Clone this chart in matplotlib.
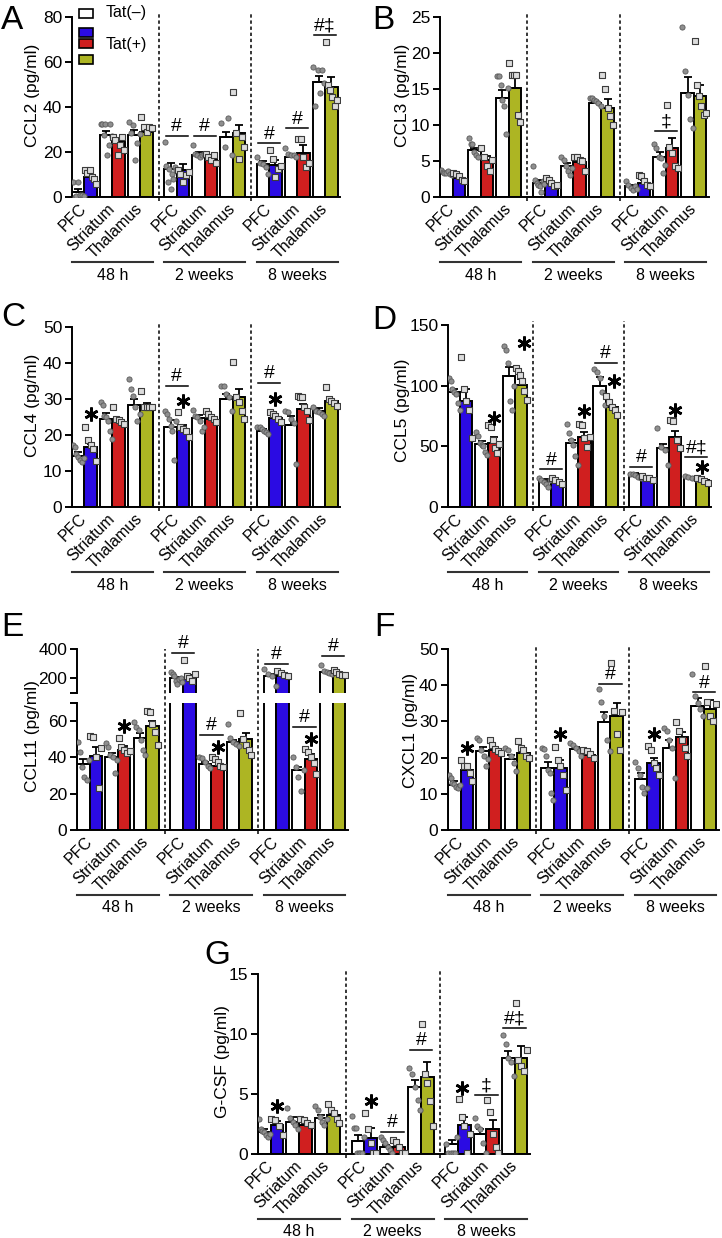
import numpy as np
import matplotlib
matplotlib.use('Agg')
import matplotlib.pyplot as plt
import matplotlib.transforms as mtransforms
from matplotlib.patches import Rectangle

plt.rcParams['font.family'] = ['Liberation Sans', 'DejaVu Sans']

regions = ['PFC', 'Striatum', 'Thalamus']
timepoints = ['48 h', '2 weeks', '8 weeks']
tat_colors = ['#2B0BE3', '#D01F1F', '#ADB523']   # PFC, Striatum, Thalamus (Tat+)

# order of groups: 48h PFC/Str/Thal, 2wk PFC/Str/Thal, 8wk PFC/Str/Thal
# ---- A: CCL2
ccl2_neg = [2.3, 27.5, 27.5, 12.6, 18.6, 26.5, 14.6, 17.8, 51.0]
ccl2_neg_sem = [1.2, 2.0, 2.2, 2.3, 1.2, 2.5, 1.6, 1.4, 2.8]
ccl2_pos = [8.9, 24.5, 29.0, 12.2, 17.1, 28.3, 14.1, 19.6, 48.8]
ccl2_pos_sem = [1.1, 1.5, 1.4, 2.4, 1.0, 3.7, 2.2, 3.4, 4.4]
ccl2_neg_pts = [[6.5, 0.2, 0.5, 6.5, 0.8, 1.0, 0.3], [32.4, 32.4, 27.5, 32.4, 18.6, 23.0, 32.4, 27.0],
                [33.5, 28.3, 32.0, 16.4, 23.8, 28.0], [24.5, 14.0, 6.7, 12.6, 3.7, 10.4, 8.2, 13.4, 11.9],
                [23.0, 19.3, 18.6, 17.8, 18.6, 19.3], [32.7, 22.3, 34.9, 18.6],
                [17.8, 14.9, 14.5, 13.4, 10.4], [21.6, 19.0, 18.6, 18.6, 17.8],
                [58.0, 40.4, 56.5, 46.1, 56.5, 50.6]]
ccl2_pos_pts = [[12.0, 10.5, 12.0, 9.0, 8.0, 6.0], [26.8, 25.3, 18.6, 23.0, 26.8, 20.8],
                [35.7, 31.2, 29.0, 31.2, 30.5], [11.9, 10.4, 6.7, 9.7, 11.2],
                [19.3, 17.8, 16.4, 18.6, 14.9], [46.8, 28.3, 16.7, 26.8, 22.3],
                [20.8, 16.7, 8.9, 12.6, 14.0], [26.0, 26.0, 17.8, 13.4, 14.9],
                [68.7, 49.8, 47.6, 44.6, 40.4, 43.0]]
ccl2_sig = [(3, '#', 27.2), (4, '#', 27.2), (6, '#', 23.8), (7, '#', 30.5), (8, '#‡', 72.0)]
ccl2_star = []

# ---- B: CCL3
ccl3_neg = [3.3, 6.5, 13.7, 2.0, 4.3, 13.1, 1.5, 5.6, 14.4]
ccl3_neg_sem = [0.15, 0.3, 1.1, 0.3, 0.4, 0.3, 0.15, 0.6, 2.3]
ccl3_pos = [2.6, 5.1, 15.1, 1.8, 4.8, 12.4, 2.0, 6.8, 14.0]
ccl3_pos_sem = [0.25, 0.6, 1.4, 0.25, 0.4, 1.2, 0.35, 1.4, 1.5]
ccl3_neg_pts = [[3.8, 3.5, 3.4, 3.3, 3.6, 3.2, 3.0], [8.2, 7.3, 7.3, 6.3, 5.9, 5.6, 6.8],
                [16.8, 16.8, 15.6, 13.5, 12.6, 8.7, 15.1], [4.3, 2.4, 2.0, 1.7, 1.5, 0.65, 2.2, 1.8],
                [5.6, 5.2, 4.3, 3.6, 3.1, 4.0], [13.8, 13.7, 13.5, 13.3, 13.1, 12.7],
                [2.2, 1.7, 1.25, 1.0, 1.5, 1.1], [7.3, 6.8, 5.6, 5.4, 3.3, 4.5],
                [23.6, 17.5, 14.2, 10.8, 9.6]]
ccl3_pos_pts = [[3.3, 3.2, 2.9, 2.4, 2.2], [6.8, 5.6, 4.3, 3.6, 5.2],
                [18.6, 17.0, 17.0, 17.0, 11.4, 10.4], [2.6, 2.4, 2.0, 1.5, 1.7],
                [5.6, 5.5, 5.2, 5.0, 3.6], [17.0, 15.0, 12.4, 11.2, 10.0],
                [3.1, 2.9, 2.2, 1.7, 1.5], [12.8, 7.0, 6.1, 4.3, 4.0],
                [21.6, 15.5, 14.0, 12.7, 11.4, 11.6]]
ccl3_sig = [(7, '‡', 9.1)]
ccl3_star = []

# ---- C: CCL4
ccl4_neg = [14.3, 24.5, 28.2, 22.2, 24.6, 30.0, 21.2, 22.9, 26.8]
ccl4_neg_sem = [0.9, 1.5, 1.8, 2.0, 0.9, 1.4, 0.4, 2.5, 0.7]
ccl4_pos = [16.8, 23.5, 27.7, 21.7, 24.5, 30.5, 24.7, 27.1, 29.4]
ccl4_pos_sem = [0.8, 0.7, 1.1, 1.2, 0.7, 2.3, 1.0, 1.6, 0.4]
ccl4_neg_pts = [[17.1, 16.6, 14.8, 13.9, 13.1, 12.5, 13.5], [29.1, 28.2, 25.4, 24.9, 24.0, 21.2, 18.9],
                [35.5, 32.8, 30.9, 27.7, 24.0, 25.9], [26.8, 25.9, 24.5, 22.6, 21.2, 13.1, 23.8],
                [27.0, 25.4, 25.0, 24.0, 21.2, 22.2], [33.7, 33.5, 31.4, 30.5, 26.8],
                [22.3, 22.1, 21.7, 21.2, 20.8, 20.3], [26.8, 26.3, 24.5, 23.2, 12.0],
                [27.7, 26.8, 26.3, 25.9, 25.4]]
ccl4_pos_pts = [[22.2, 18.5, 17.1, 16.2, 12.9], [27.9, 24.5, 24.2, 23.5, 23.1],
                [32.1, 27.7, 27.7, 27.7, 27.9], [26.3, 22.2, 21.7, 21.2, 19.4],
                [26.8, 25.9, 25.0, 24.5, 23.5], [40.4, 30.5, 29.1, 26.8, 24.5],
                [26.3, 25.9, 25.4, 24.5, 23.5], [30.9, 30.5, 30.5, 27.7, 26.8, 24.2],
                [33.2, 29.9, 29.4, 29.0, 28.0]]
ccl4_sig = [(3, '#', 33.7), (6, '#', 34.4)]
ccl4_star = [(0, 0.5, 25.8), (3, 0.5, 29.5), (6, 0.5, 30.0)]

# ---- D: CCL5
ccl5_neg = [94.5, 51.7, 107.7, 21.5, 52.5, 100.0, 27.0, 48.3, 24.3]
ccl5_neg_sem = [2.8, 2.7, 8.0, 1.2, 2.8, 7.0, 1.2, 4.0, 0.8]
ccl5_pos = [87.0, 53.0, 100.8, 20.2, 58.0, 82.3, 23.5, 58.0, 22.0]
ccl5_pos_sem = [10.0, 5.0, 4.7, 1.4, 4.0, 1.5, 1.0, 5.0, 1.2]
ccl5_neg_pts = [[106, 104, 97, 95, 93, 86, 80], [62, 58.6, 52.5, 51, 50, 45.6, 42.8],
                [132.6, 129.8, 118.8, 87, 80, 100], [23.5, 22.0, 21.0, 19.3, 16.6, 22.5],
                [68.2, 60.8, 55.2, 51.0, 42.0, 34.5], [113.8, 111.0, 106.0, 94.5, 84.3],
                [27.6, 27.0, 26.0, 24.9, 24.0], [65.0, 49.7, 47.0, 34.5],
                [25.7, 24.9, 24.0, 23.0]]
ccl5_pos_pts = [[124, 97, 87, 80, 56.6], [67.7, 66.3, 55.2, 48.3, 44.2, 52],
                [114.6, 111.9, 109.0, 103.6, 95.3, 88.4], [24.3, 22.0, 20.5, 18.8],
                [68.2, 67.7, 56.6, 49.7, 58.0], [91.7, 86.2, 82.3, 80.0, 76.0],
                [25.7, 24.3, 23.5, 22.0], [71.3, 70.5, 55.2, 48.3],
                [24.0, 23.0, 21.5, 19.5]]
ccl5_sig = [(3, '#', 31.0), (5, '#', 119.0), (6, '#', 33.0), (8, '#‡', 41.4)]
ccl5_star = [(1, 0.5, 73.0), (2, 0.7, 135.0), (4, 0.5, 79.0), (5, 0.7, 103.6), (7, 0.5, 80.0), (8, 0.5, 33.0)]

# ---- E: CCL11 (broken axis)
ccl11_neg = [36.3, 40.0, 50.5, 200, 36.3, 48.6, 213, 33.0, 240]
ccl11_neg_sem = [2.6, 2.2, 3.1, 10, 1.3, 1.0, 15, 1.9, 8]
ccl11_pos = [41.0, 44.0, 57.4, 200, 35.2, 50.1, 213, 38.9, 228]
ccl11_pos_sem = [4.5, 2.2, 2.8, 20, 3.3, 3.5, 10, 2.9, 6]
ccl11_neg_pts = [[48.6, 43.0, 34.9, 29.4, 27.5, 38.5], [48.0, 46.0, 41.3, 40.0, 31.2, 38.5],
                 [59.6, 56.9, 55.0, 49.5, 44.0, 41.3], [244, 229, 213, 184, 162, 195, 205, 175],
                 [40.4, 39.5, 37.6, 35.2, 34.0], [58.7, 50.5, 48.6, 47.5, 46.5],
                 [262, 229, 213, 147], [40.4, 34.9, 29.4, 21.7, 33.0],
                 [289, 250, 240, 235, 230]]
ccl11_pos_pts = [[51.7, 51.0, 40.4, 22.9, 45.0], [50.5, 45.5, 44.0, 42.2, 43.5],
                 [65.7, 65.1, 58.7, 54.1, 46.8], [324, 213, 200, 184, 229],
                 [40.4, 38.9, 37.6, 35.2, 34.9], [64.6, 50.1, 46.8, 44.0, 41.3],
                 [251, 236, 222, 215], [44.4, 43.0, 40.4, 36.7, 30.8],
                 [255, 240, 230, 225, 220]]
ccl11_sig = [(4, '#', 52.3), (7, '#', 56.9)]
ccl11_sig_top = [(3, '#', 373), (6, '#', 298), (8, '#', 352)]
ccl11_star = [(1, 0.5, 57.4), (4, 0.5, 45.5), (7, 0.5, 49.9)]

# ---- F: CXCL1
cxcl1_neg = [12.5, 21.8, 19.6, 17.1, 22.4, 29.8, 14.1, 22.7, 34.3]
cxcl1_neg_sem = [0.9, 1.2, 1.2, 1.6, 0.6, 2.9, 1.6, 2.1, 2.3]
cxcl1_pos = [16.7, 22.0, 21.3, 17.1, 20.6, 31.5, 18.5, 25.6, 33.3]
cxcl1_pos_sem = [0.9, 0.7, 0.9, 2.3, 0.6, 3.5, 1.4, 1.4, 2.6]
cxcl1_neg_pts = [[15.3, 14.4, 13.1, 12.8, 12.0, 11.6, 12.3], [25.5, 25.0, 22.2, 20.4, 17.6, 19.5],
                 [22.7, 22.2, 20.4, 18.5, 16.2], [22.7, 22.4, 20.4, 16.7, 15.7, 10.2, 8.3],
                 [24.1, 23.6, 22.7, 21.8, 20.4], [38.9, 35.4, 31.5, 25.0, 21.8],
                 [18.7, 17.1, 15.3, 12.0, 10.2, 11.5], [28.2, 27.3, 25.0, 22.7, 14.4],
                 [43.0, 37.0, 35.2, 33.3, 31.5]]
cxcl1_pos_pts = [[19.4, 17.8, 17.6, 15.7, 13.4], [24.8, 23.6, 22.4, 21.8, 21.3],
                 [24.5, 22.7, 22.2, 20.4, 19.9], [23.0, 19.4, 17.6, 15.3, 11.1],
                 [22.2, 21.8, 20.9, 19.9], [46.1, 32.9, 26.4, 22.2, 32.5],
                 [23.3, 22.2, 18.5, 17.1, 15.3], [29.8, 27.3, 25.0, 22.7, 20.4],
                 [45.2, 35.4, 31.5, 30.1, 34.8]]
cxcl1_sig = [(5, '#', 40.3), (8, '#', 38.0)]
cxcl1_star = [(0, 0.5, 22.7), (3, 0.5, 26.4), (6, 0.5, 26.4)]

# ---- G: G-CSF
gcsf_neg = [1.8, 2.65, 3.0, 1.1, 0.6, 5.6, 0.8, 1.67, 8.0]
gcsf_neg_sem = [0.25, 0.4, 0.26, 0.5, 0.15, 0.6, 0.4, 0.45, 0.55]
gcsf_pos = [2.4, 2.4, 3.26, 1.35, 0.6, 6.4, 2.4, 2.06, 8.0]
gcsf_pos_sem = [0.33, 0.2, 0.25, 0.8, 0.15, 1.3, 0.66, 0.74, 1.0]
gcsf_neg_pts = [[2.9, 2.1, 1.9, 1.8, 1.6, 1.45, 1.7], [3.8, 3.0, 2.7, 2.4, 2.1],
                [4.0, 3.7, 3.1, 2.7, 2.4, 2.9], [3.2, 2.2, 2.15, 0.05, 0.05, 0.05, 0.05, 1.45],
                [1.45, 1.2, 0.9, 0.6, 0.33, 0.05], [7.2, 6.7, 5.6, 4.5, 3.7],
                [0.8, 0.05, 0.05, 0.05, 0.05, 1.45], [3.0, 2.3, 2.1, 0.9, 0.05],
                [9.9, 9.2, 8.0, 7.7, 6.5]]
gcsf_pos_pts = [[2.9, 2.85, 2.3, 1.6], [2.9, 2.85, 2.6, 2.4],
                [4.2, 3.7, 3.4, 2.9, 2.6], [3.4, 2.1, 0.9, 0.05, 0.05],
                [1.2, 1.0, 0.6, 0.05, 0.05], [10.8, 6.7, 5.9, 4.4, 2.3],
                [4.6, 3.1, 2.3, 0.05, 1.7], [4.5, 3.5, 1.7, 0.6, 0.05],
                [12.6, 7.85, 7.3, 6.9, 8.7]]
gcsf_sig = [(4, '#', 1.87), (5, '#', 8.7), (7, '‡', 4.9), (8, '#‡', 10.5)]
gcsf_star = [(0, 0.5, 4.0), (3, 0.5, 4.4), (6, 0.3, 5.5)]

# ------------------------------------------------------------------ layout
W, H = 722, 1238
fig = plt.figure(figsize=(W / 100, H / 100), dpi=100)
px = mtransforms.Affine2D().scale(1 / W, -1 / H).translate(0, 1) + fig.transFigure

centers = [t * 7.4 + r * 2.24 for t in range(3) for r in range(3)]
XLIM = (-1.0, centers[-1] + 1.2)


def add_ax(l, t, r, b):
    return fig.add_axes([l / W, 1 - b / H, (r - l) / W, (b - t) / H])


def style(ax, ylim, yticks, ylabels=None, bottom=True):
    ax.set_xlim(*XLIM)
    ax.set_ylim(*ylim)
    for s in ['top', 'right']:
        ax.spines[s].set_visible(False)
    ax.spines['left'].set_linewidth(1.4)
    ax.spines['bottom'].set_linewidth(1.4)
    ax.set_yticks(yticks)
    if ylabels is not None:
        ax.set_yticklabels(ylabels)
    ax.tick_params(axis='y', length=5, width=1.4, labelsize=12.5, pad=2)
    if bottom:
        ax.set_xticks(centers)
        ax.set_xticklabels(regions * 3, rotation=45, ha='right', va='center',
                           rotation_mode='anchor', fontsize=11.5)
        ax.tick_params(axis='x', length=0, pad=7)
    else:
        ax.spines['bottom'].set_visible(False)
        ax.set_xticks([])


def draw_bars(ax, neg, neg_sem, pos, pos_sem, neg_pts, pos_pts):
    for i, c in enumerate(centers):
        for dx, m, e, pts, fc, mk in [(-0.5, neg[i], neg_sem[i], neg_pts[i], 'white', 'o'),
                                      (0.5, pos[i], pos_sem[i], pos_pts[i], tat_colors[i % 3], 's')]:
            ax.bar(c + dx, m, width=1.0, color=fc, edgecolor='k', linewidth=1.4, zorder=2)
            ax.errorbar([c + dx], [m], yerr=[[0], [e]], fmt='none', ecolor='k',
                        elinewidth=1.3, capsize=2.6, capthick=1.3, zorder=3)
            n = len(pts)
            xs = c + dx + (np.linspace(-0.44, 0.44, n) if n > 1 else np.zeros(1))
            if mk == 'o':
                ax.scatter(xs, pts, s=14, marker='o', facecolor='#8f8f8f', edgecolor='#5a5a5a',
                           linewidth=0.6, zorder=4)
            else:
                ax.scatter(xs, pts, s=14, marker='s', facecolor='#dcdcdc', edgecolor='#3c3c3c',
                           linewidth=0.8, zorder=4)


def annotate(ax, sig, star):
    for g, txt, y in sig:
        c = centers[g]
        ax.plot([c - 0.9, c + 0.9], [y, y], color='k', lw=1.1, clip_on=False, zorder=5)
        ax.annotate(txt, (c, y), xytext=(0, 0.5), textcoords='offset points',
                    ha='center', va='bottom', fontsize=14, annotation_clip=False)
    for g, dx, y in star:
        ax.plot([centers[g] + dx], [y], marker=(6, 2, 0), ms=10, mew=1.9, color='k',
                clip_on=False, zorder=5)


def decorate(ax, h_px, top_frac=1.02):
    tr = mtransforms.blended_transform_factory(ax.transData, ax.transAxes)
    for k in (2, 5):
        xd = (centers[k] + centers[k + 1]) / 2
        ax.plot([xd, xd], [-4 / h_px, top_frac], transform=tr, color='k', lw=1.1,
                ls=(0, (2.2, 1.8)), clip_on=False, zorder=1)
    for t in range(3):
        x0, x1 = centers[3 * t] - 1.0, centers[3 * t + 2] + 1.0
        ax.plot([x0, x1], [-65 / h_px] * 2, transform=tr, color='#333333', lw=1.5,
                clip_on=False)
        ax.text((x0 + x1) / 2, -78 / h_px, timepoints[t], transform=tr, ha='center',
                va='center', fontsize=11.5)


def panel(box, data, ylim, yticks, sig, star, ylab, ylab_pos, letter, letter_pos):
    l, t, r, b = box
    ax = add_ax(l, t, r, b)
    style(ax, ylim, yticks)
    draw_bars(ax, *data)
    annotate(ax, sig, star)
    decorate(ax, b - t)
    fig.text(ylab_pos[0], ylab_pos[1], ylab, transform=px, rotation=90,
             ha='center', va='center', fontsize=12.5)
    fig.text(letter_pos[0], letter_pos[1], letter, transform=px, ha='left', va='top', fontsize=24)
    return ax


axA = panel((72, 17, 340, 197),
            (ccl2_neg, ccl2_neg_sem, ccl2_pos, ccl2_pos_sem, ccl2_neg_pts, ccl2_pos_pts),
            (0, 80), [0, 20, 40, 60, 80], ccl2_sig, ccl2_star, 'CCL2 (pg/ml)', (32, 95), 'A', (1, 5))
panel((440, 17, 709, 197),
      (ccl3_neg, ccl3_neg_sem, ccl3_pos, ccl3_pos_sem, ccl3_neg_pts, ccl3_pos_pts),
      (0, 25), [0, 5, 10, 15, 20, 25], ccl3_sig, ccl3_star, 'CCL3 (pg/ml)', (403, 95), 'B', (372, 5))
panel((72, 327, 340, 507),
      (ccl4_neg, ccl4_neg_sem, ccl4_pos, ccl4_pos_sem, ccl4_neg_pts, ccl4_pos_pts),
      (0, 50), [0, 10, 20, 30, 40, 50], ccl4_sig, ccl4_star, 'CCL4 (pg/ml)', (32, 405), 'C', (1, 302))
panel((448, 325, 711, 507),
      (ccl5_neg, ccl5_neg_sem, ccl5_pos, ccl5_pos_sem, ccl5_neg_pts, ccl5_pos_pts),
      (0, 150), [0, 50, 100, 150], ccl5_sig, ccl5_star, 'CCL5 (pg/ml)', (403, 410), 'D', (372, 305))
panel((448, 649, 719, 830),
      (cxcl1_neg, cxcl1_neg_sem, cxcl1_pos, cxcl1_pos_sem, cxcl1_neg_pts, cxcl1_pos_pts),
      (0, 50), [0, 10, 20, 30, 40, 50], cxcl1_sig, cxcl1_star, 'CXCL1 (pg/ml)', (411, 731), 'F', (374, 612))
panel((258, 974, 530, 1154),
      (gcsf_neg, gcsf_neg_sem, gcsf_pos, gcsf_pos_sem, gcsf_neg_pts, gcsf_pos_pts),
      (0, 15), [0, 5, 10, 15], gcsf_sig, gcsf_star, 'G-CSF (pg/ml)', (222, 1062), 'G', (204, 940))

# ---- E: broken y axis
e_data = (ccl11_neg, ccl11_neg_sem, ccl11_pos, ccl11_pos_sem, ccl11_neg_pts, ccl11_pos_pts)
axEt = add_ax(77, 649, 348, 693)
style(axEt, (100, 400), [100, 200, 400], ['', '200', '400'], bottom=False)
draw_bars(axEt, *e_data)
annotate(axEt, ccl11_sig_top, [])
axEb = add_ax(77, 703, 348, 830)
style(axEb, (0, 70), [0, 20, 40, 60, 70], ['0', '20', '40', '60', ''])
draw_bars(axEb, *e_data)
annotate(axEb, ccl11_sig, ccl11_star)
decorate(axEb, 127, top_frac=(830 - 649) / 127)
fig.text(32, 736, 'CCL11 (pg/ml)', transform=px, rotation=90, ha='center', va='center', fontsize=12.5)
fig.text(1, 612, 'E', transform=px, ha='left', va='top', fontsize=24)

# ---- legend in A (pixel coords, y downwards)
legend_boxes = [(9, 'white'), (28, tat_colors[0]), (39, tat_colors[1]), (55, tat_colors[2])]
for y0, fc in legend_boxes:
    fig.patches.append(Rectangle((79, y0), 14, 9, transform=px, facecolor=fc,
                                 edgecolor='k', linewidth=1.2))
fig.text(106, 13, 'Tat(–)', transform=px, ha='left', va='center', fontsize=11.5)
fig.text(106, 44, 'Tat(+)', transform=px, ha='left', va='center', fontsize=11.5)

fig.savefig('out.png', dpi=100)
